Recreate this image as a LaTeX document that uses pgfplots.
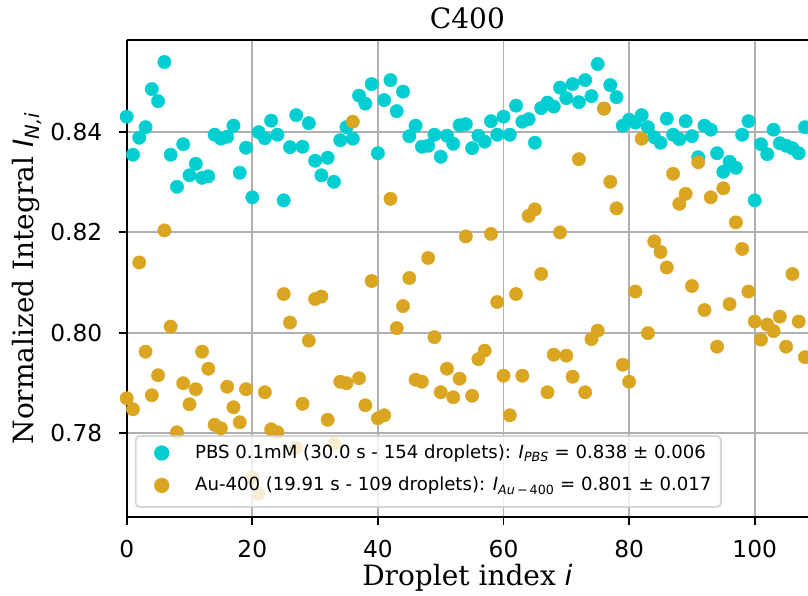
\documentclass[border=0pt]{standalone}
\usepackage{fontspec}
\setmainfont{DejaVu Serif}
\newfontfamily\dvs{DejaVu Sans}
\usepackage{pgfplots}
\usepackage{pgfplotstable}
\pgfplotsset{compat=1.18}
\definecolor{cyanc}{HTML}{00CED1}
\definecolor{goldc}{HTML}{DAA520}
\definecolor{gridc}{HTML}{B0B0B0}
\definecolor{legc}{HTML}{CCCCCC}

\pgfplotstableread{
i v
0 0.8431
1 0.8355
2 0.8389
3 0.8410
4 0.8486
5 0.8462
6 0.8540
7 0.8355
8 0.8291
9 0.8376
10 0.8314
11 0.8337
12 0.8309
13 0.8312
14 0.8395
15 0.8387
16 0.8391
17 0.8413
18 0.8319
19 0.8369
20 0.8270
21 0.8400
22 0.8388
23 0.8423
24 0.8395
25 0.8264
26 0.8370
27 0.8434
28 0.8371
29 0.8418
30 0.8343
31 0.8314
32 0.8349
33 0.8301
34 0.8384
35 0.8410
36 0.8387
37 0.8473
38 0.8457
39 0.8496
40 0.8358
41 0.8464
42 0.8504
43 0.8442
44 0.8481
45 0.8392
46 0.8413
47 0.8371
48 0.8373
49 0.8395
50 0.8351
51 0.8393
52 0.8377
53 0.8414
54 0.8416
55 0.8368
56 0.8393
57 0.8381
58 0.8422
59 0.8395
60 0.8431
61 0.8395
62 0.8453
63 0.8421
64 0.8426
65 0.8379
66 0.8448
67 0.8459
68 0.8451
69 0.8489
70 0.8468
71 0.8496
72 0.8460
73 0.8504
74 0.8472
75 0.8536
76 0.8447
77 0.8494
78 0.8470
79 0.8413
80 0.8425
81 0.8419
82 0.8434
83 0.8410
84 0.8390
85 0.8379
86 0.8427
87 0.8395
88 0.8386
89 0.8422
90 0.8392
91 0.8350
92 0.8413
93 0.8405
94 0.8358
95 0.8321
96 0.8341
97 0.8329
98 0.8395
99 0.8422
100 0.8264
101 0.8376
102 0.8356
103 0.8405
104 0.8378
105 0.8373
106 0.8368
107 0.8358
108 0.8410
109 0.8386
}\pbs

\pgfplotstableread{
i v
0 0.7869
1 0.7847
2 0.8140
3 0.7962
4 0.7875
5 0.7915
6 0.8204
7 0.8012
8 0.7801
9 0.7899
10 0.7857
11 0.7887
12 0.7962
13 0.7928
14 0.7816
15 0.7809
16 0.7892
17 0.7851
18 0.7821
19 0.7887
20 0.7710
21 0.7678
22 0.7881
23 0.7807
24 0.7801
25 0.8077
26 0.8020
27 0.7770
28 0.7858
29 0.7984
30 0.8067
31 0.8072
32 0.7826
33 0.7778
34 0.7902
35 0.7899
36 0.8421
37 0.7909
38 0.7855
39 0.8103
40 0.7829
41 0.7835
42 0.8267
43 0.8009
44 0.8053
45 0.8109
46 0.7906
47 0.7902
48 0.8149
49 0.7991
50 0.7881
51 0.7928
52 0.7871
53 0.7908
54 0.8192
55 0.7874
56 0.7947
57 0.7964
58 0.8197
59 0.8061
60 0.7914
61 0.7835
62 0.8077
63 0.7914
64 0.8233
65 0.8246
66 0.8117
67 0.7881
68 0.7956
69 0.8200
70 0.7954
71 0.7912
72 0.8346
73 0.7881
74 0.7987
75 0.8004
76 0.8447
77 0.8301
78 0.8248
79 0.7936
80 0.7902
81 0.8082
82 0.8387
83 0.7999
84 0.8182
85 0.8161
86 0.8130
87 0.8317
88 0.8257
89 0.8277
90 0.8093
91 0.8340
92 0.8045
93 0.8270
94 0.7972
95 0.8288
96 0.8057
97 0.8220
98 0.8167
99 0.8082
100 0.8022
101 0.7986
102 0.8016
103 0.8003
104 0.8032
105 0.7972
106 0.8117
107 0.8022
108 0.7951
}\au

\pgfplotsset{
  mylegimg/.style={
    legend image code/.code={
      \path (0pt,2.3pt) (37pt,2.3pt);
      \draw[mark repeat=2, mark phase=2, ##1, fill opacity=1, draw opacity=1]
        plot coordinates {(0pt,2.3pt)(18.5pt,2.3pt)(37pt,2.3pt)};
    }
  }
}

\begin{document}
\begin{tikzpicture}
\begin{axis}[
  at={(0,0)}, anchor=south west,
  scale only axis, width=681.4pt, height=477pt,
  xmin=0, xmax=108.5, ymin=0.7632, ymax=0.8584,
  axis y line*=left,
  axis line style={line width=1.86pt, black},
  tick align=outside, tick pos=left,
  major tick length=8pt,
  tick style={line width=1.86pt, black},
  grid=major,
  grid style={line width=1.86pt, gridc},
  xtick={0,20,40,60,80,100},
  ytick={0.78,0.80,0.82,0.84},
  /pgf/number format/assume math mode=true,
  x tick label style={font=\dvs\fontsize{23.3}{28}\selectfont, anchor=north, inner sep=0pt, yshift=-15.5pt},
  y tick label style={font=\dvs\fontsize{23.3}{28}\selectfont, anchor=east, inner sep=0pt, xshift=-16.2pt,
     /pgf/number format/fixed, /pgf/number format/fixed zerofill, /pgf/number format/precision=2},
  every axis title/.style={at={(axis description cs:0.5,1)}, anchor=base, yshift=11.7pt, font=\fontsize{28}{34}\selectfont},
  every axis x label/.style={at={(axis description cs:0.5,0)}, anchor=base, yshift=-68pt, font=\fontsize{28}{34}\selectfont},
  every axis y label/.style={at={(axis description cs:-0.1371,0.5)}, anchor=base, rotate=90, font=\fontsize{28}{34}\selectfont},
  title={C400},
  xlabel={Droplet index {\dvs\itshape i}},
  ylabel={Normalized Integral {\dvs\itshape I}\textsubscript{\dvs\itshape N,i}},
  legend cell align=left,
  legend style={at={(axis description cs:0.012,0.019)}, anchor=south west,
    font=\dvs\fontsize{18.1}{21}\selectfont,
    fill=white, fill opacity=0.8, draw opacity=0.8, text opacity=1,
    draw=legc, line width=1.86pt, rounded corners=4pt,
    inner xsep=6.5pt, inner ysep=6.5pt, row sep=6.8pt, column sep=11pt,
    nodes={inner xsep=3pt, inner ysep=3pt, text height=12.8pt, text depth=6.8pt}},
]
\addplot[only marks, mark=*, mark size=6.7pt, color=cyanc, mark options={draw=cyanc, fill=cyanc}, mylegimg] table[x=i, y=v] {\pbs};
\addlegendentry{PBS 0.1mM (30.0 s - 154 droplets): \textit{I}\textsubscript{\textit{PBS}} = 0.838 ± 0.006}
\addplot[only marks, mark=*, mark size=6.7pt, color=goldc, mark options={draw=goldc, fill=goldc}, mylegimg] table[x=i, y=v] {\au};
\addlegendentry{Au-400 (19.91 s - 109 droplets): \textit{I}\textsubscript{\textit{Au}\,−\,400} = 0.801 ± 0.017}
\end{axis}
\pgfresetboundingbox
\useasboundingbox (-126.7pt,-78pt) rectangle (681.3pt,517pt);
\end{tikzpicture}
\end{document}
